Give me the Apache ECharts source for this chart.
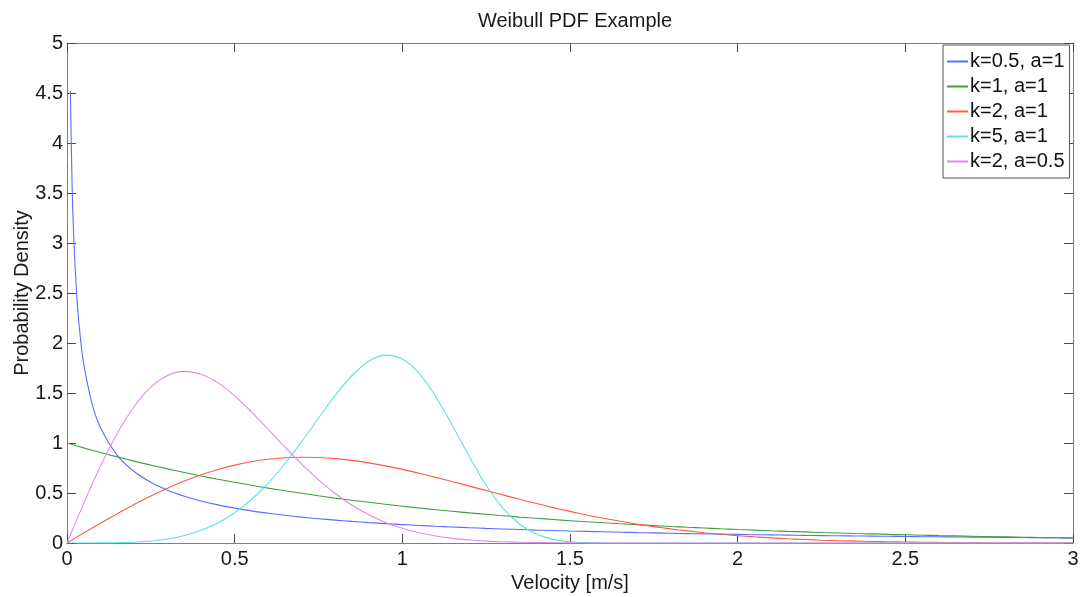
<!DOCTYPE html>
<html>
<head>
<meta charset="utf-8">
<script src="https://cdn.jsdelivr.net/npm/echarts@6/dist/echarts.min.js"></script>
<style>
  html, body { margin: 0; padding: 0; background: #fff; }
  #chart { width: 1081px; height: 597px; }
</style>
</head>
<body>
<div id="chart"></div>
<script>
// Sample velocities (m/s) shared by the curves
var velocity = [0, 0.05, 0.1, 0.15, 0.2, 0.25, 0.3, 0.35, 0.4, 0.45, 0.5, 0.55, 0.6, 0.65, 0.7, 0.75, 0.8, 0.85, 0.9, 0.95,
  1, 1.05, 1.1, 1.15, 1.2, 1.25, 1.3, 1.35, 1.4, 1.45, 1.5, 1.55, 1.6, 1.65, 1.7, 1.75, 1.8, 1.85, 1.9, 1.95,
  2, 2.05, 2.1, 2.15, 2.2, 2.25, 2.3, 2.35, 2.4, 2.45, 2.5, 2.55, 2.6, 2.65, 2.7, 2.75, 2.8, 2.85, 2.9, 2.95, 3];

// k=0.5 curve starts just right of zero, where it rises steeply
var velocityK05 = [0.01, 0.015, 0.02, 0.03, 0.04, 0.05, 0.075, 0.1, 0.15, 0.2, 0.25, 0.3, 0.35, 0.4, 0.45, 0.5, 0.55, 0.6, 0.65, 0.7, 0.75, 0.8, 0.85, 0.9, 0.95,
  1, 1.05, 1.1, 1.15, 1.2, 1.25, 1.3, 1.35, 1.4, 1.45, 1.5, 1.55, 1.6, 1.65, 1.7, 1.75, 1.8, 1.85, 1.9, 1.95,
  2, 2.05, 2.1, 2.15, 2.2, 2.25, 2.3, 2.35, 2.4, 2.45, 2.5, 2.55, 2.6, 2.65, 2.7, 2.75, 2.8, 2.85, 2.9, 2.95, 3];
var densityK05 = [4.52, 3.61, 3.07, 2.43, 2.05, 1.789, 1.388, 1.153, 0.877, 0.715, 0.607, 0.528, 0.468, 0.420, 0.381, 0.349, 0.321, 0.298, 0.277, 0.259, 0.243, 0.229, 0.216, 0.204, 0.194,
  0.184, 0.175, 0.167, 0.160, 0.153, 0.146, 0.140, 0.135, 0.129, 0.125, 0.120, 0.116, 0.112, 0.108, 0.104, 0.101, 0.097, 0.094, 0.091, 0.089,
  0.086, 0.083, 0.081, 0.079, 0.076, 0.074, 0.072, 0.070, 0.069, 0.067, 0.065, 0.063, 0.062, 0.060, 0.059, 0.057, 0.056, 0.055, 0.053, 0.052, 0.051];

var densityK1 = [1, 0.951, 0.905, 0.861, 0.819, 0.779, 0.741, 0.705, 0.670, 0.638, 0.607, 0.577, 0.549, 0.522, 0.497, 0.472, 0.449, 0.427, 0.407, 0.387,
  0.368, 0.350, 0.333, 0.317, 0.301, 0.287, 0.273, 0.259, 0.247, 0.235, 0.223, 0.212, 0.202, 0.192, 0.183, 0.174, 0.165, 0.157, 0.150, 0.142,
  0.135, 0.129, 0.122, 0.116, 0.111, 0.105, 0.100, 0.095, 0.091, 0.086, 0.082, 0.078, 0.074, 0.071, 0.067, 0.064, 0.061, 0.058, 0.055, 0.052, 0.050];

var densityK2 = [0, 0.100, 0.198, 0.293, 0.384, 0.469, 0.548, 0.619, 0.682, 0.735, 0.779, 0.813, 0.837, 0.852, 0.858, 0.855, 0.844, 0.826, 0.801, 0.771,
  0.736, 0.697, 0.656, 0.613, 0.569, 0.524, 0.481, 0.437, 0.395, 0.354, 0.316, 0.280, 0.247, 0.217, 0.189, 0.164, 0.141, 0.121, 0.103, 0.087,
  0.073, 0.061, 0.051, 0.042, 0.035, 0.028, 0.023, 0.019, 0.015, 0.012, 0.010, 0.008, 0.006, 0.005, 0.004, 0.003, 0.002, 0.002, 0.001, 0.001, 0.001];

var densityK5 = [0, 0, 0.001, 0.003, 0.008, 0.020, 0.040, 0.075, 0.127, 0.201, 0.303, 0.435, 0.599, 0.795, 1.015, 1.248, 1.476, 1.675, 1.818, 1.879,
  1.839, 1.696, 1.463, 1.170, 0.862, 0.577, 0.349, 0.188, 0.089, 0.036, 0.013, 0.004, 0.001, 0, 0, 0, 0, 0, 0, 0,
  0, 0, 0, 0, 0, 0, 0, 0, 0, 0, 0, 0, 0, 0, 0, 0, 0, 0, 0, 0, 0];

var densityK2A05 = [0, 0.396, 0.769, 1.097, 1.363, 1.558, 1.675, 1.716, 1.687, 1.601, 1.472, 1.312, 1.137, 0.959, 0.789, 0.632, 0.495, 0.378, 0.282, 0.206,
  0.147, 0.102, 0.070, 0.046, 0.030, 0.019, 0.012, 0.007, 0.004, 0.003, 0.001, 0, 0, 0, 0, 0, 0, 0, 0, 0,
  0, 0, 0, 0, 0, 0, 0, 0, 0, 0, 0, 0, 0, 0, 0, 0, 0, 0, 0, 0, 0];

var seriesNames = ['k=0.5, a=1', 'k=1, a=1', 'k=2, a=1', 'k=5, a=1', 'k=2, a=0.5'];
var seriesColors = ['#5b6cff', '#3f9f3f', '#ff5a42', '#5fe0e0', '#e08ae8'];
var xTickInterval = 0.5;
var yTickInterval = 0.5;

function pairs(xs, ys) {
  return xs.map(function (x, i) { return [x, ys[i]]; });
}

var curves = [
  pairs(velocityK05, densityK05),
  pairs(velocity, densityK1),
  pairs(velocity, densityK2),
  pairs(velocity, densityK5),
  pairs(velocity, densityK2A05)
];

var FONT = '"Liberation Sans", Arial, Helvetica, sans-serif';
var AXIS_GREY = '#7f7f7f';
var TICK_GREY = '#4a4a4a';

function axisBase(extra) {
  var a = {
    type: 'value',
    splitLine: { show: false },
    axisLine: { show: true, onZero: false, lineStyle: { color: AXIS_GREY, width: 1 } },
    axisTick: { show: true, inside: true, length: 9, lineStyle: { color: TICK_GREY, width: 1 } },
    axisLabel: { show: false }
  };
  for (var k in extra) a[k] = extra[k];
  return a;
}

var chart = echarts.init(document.getElementById('chart'), null, { renderer: 'canvas' });

chart.setOption({
  animation: false,
  backgroundColor: '#ffffff',
  textStyle: { fontFamily: FONT },
  title: {
    text: 'Weibull PDF Example',
    left: 570,
    textAlign: 'center',
    top: 6,
    textStyle: { fontFamily: FONT, fontSize: 20, fontWeight: 'normal', color: '#1a1a1a' }
  },
  grid: { left: 67, right: 8, top: 43, bottom: 54, containLabel: false, outerBoundsMode: 'none' },
  legend: {
    orient: 'vertical',
    left: 943,
    top: 45,
    data: seriesNames,
    icon: 'rect',
    itemWidth: 21,
    itemHeight: 2,
    itemGap: 0,
    padding: [4, 5, 4, 4],
    backgroundColor: '#ffffff',
    borderColor: '#555555',
    borderWidth: 1,
    borderRadius: 0,
    textStyle: { fontFamily: FONT, fontSize: 20, color: '#111', lineHeight: 25, padding: [0, 0, 0, -3] }
  },
  xAxis: [
    axisBase({
      min: 0, max: 3, interval: xTickInterval, position: 'bottom',
      name: 'Velocity [m/s]', nameLocation: 'middle', nameGap: 30, nameMoveOverlap: false,
      nameTextStyle: { fontFamily: FONT, fontSize: 20, color: '#1a1a1a' },
      axisLabel: { show: true, fontFamily: FONT, fontSize: 20, color: '#1a1a1a', margin: 6 }
    }),
    axisBase({ min: 0, max: 3, interval: xTickInterval, position: 'top' })
  ],
  yAxis: [
    axisBase({
      min: 0, max: 5, interval: yTickInterval, position: 'left',
      name: 'Probability Density', nameLocation: 'middle', nameGap: 35, nameRotate: 90, nameMoveOverlap: false,
      nameTextStyle: { fontFamily: FONT, fontSize: 20, color: '#1a1a1a' },
      axisLabel: { show: true, fontFamily: FONT, fontSize: 20, color: '#1a1a1a', margin: 4 }
    }),
    axisBase({ min: 0, max: 5, interval: yTickInterval, position: 'right' })
  ],
  series: seriesNames.map(function (name, i) {
    return {
      name: name,
      type: 'line',
      xAxisIndex: 0,
      yAxisIndex: 0,
      data: curves[i],
      symbol: 'none',
      showSymbol: false,
      smooth: 0.35,
      clip: true,
      color: seriesColors[i],
      itemStyle: { color: seriesColors[i] },
      lineStyle: { color: seriesColors[i], width: 1.1 },
      emphasis: { disabled: true }
    };
  })
});
</script>
</body>
</html>
